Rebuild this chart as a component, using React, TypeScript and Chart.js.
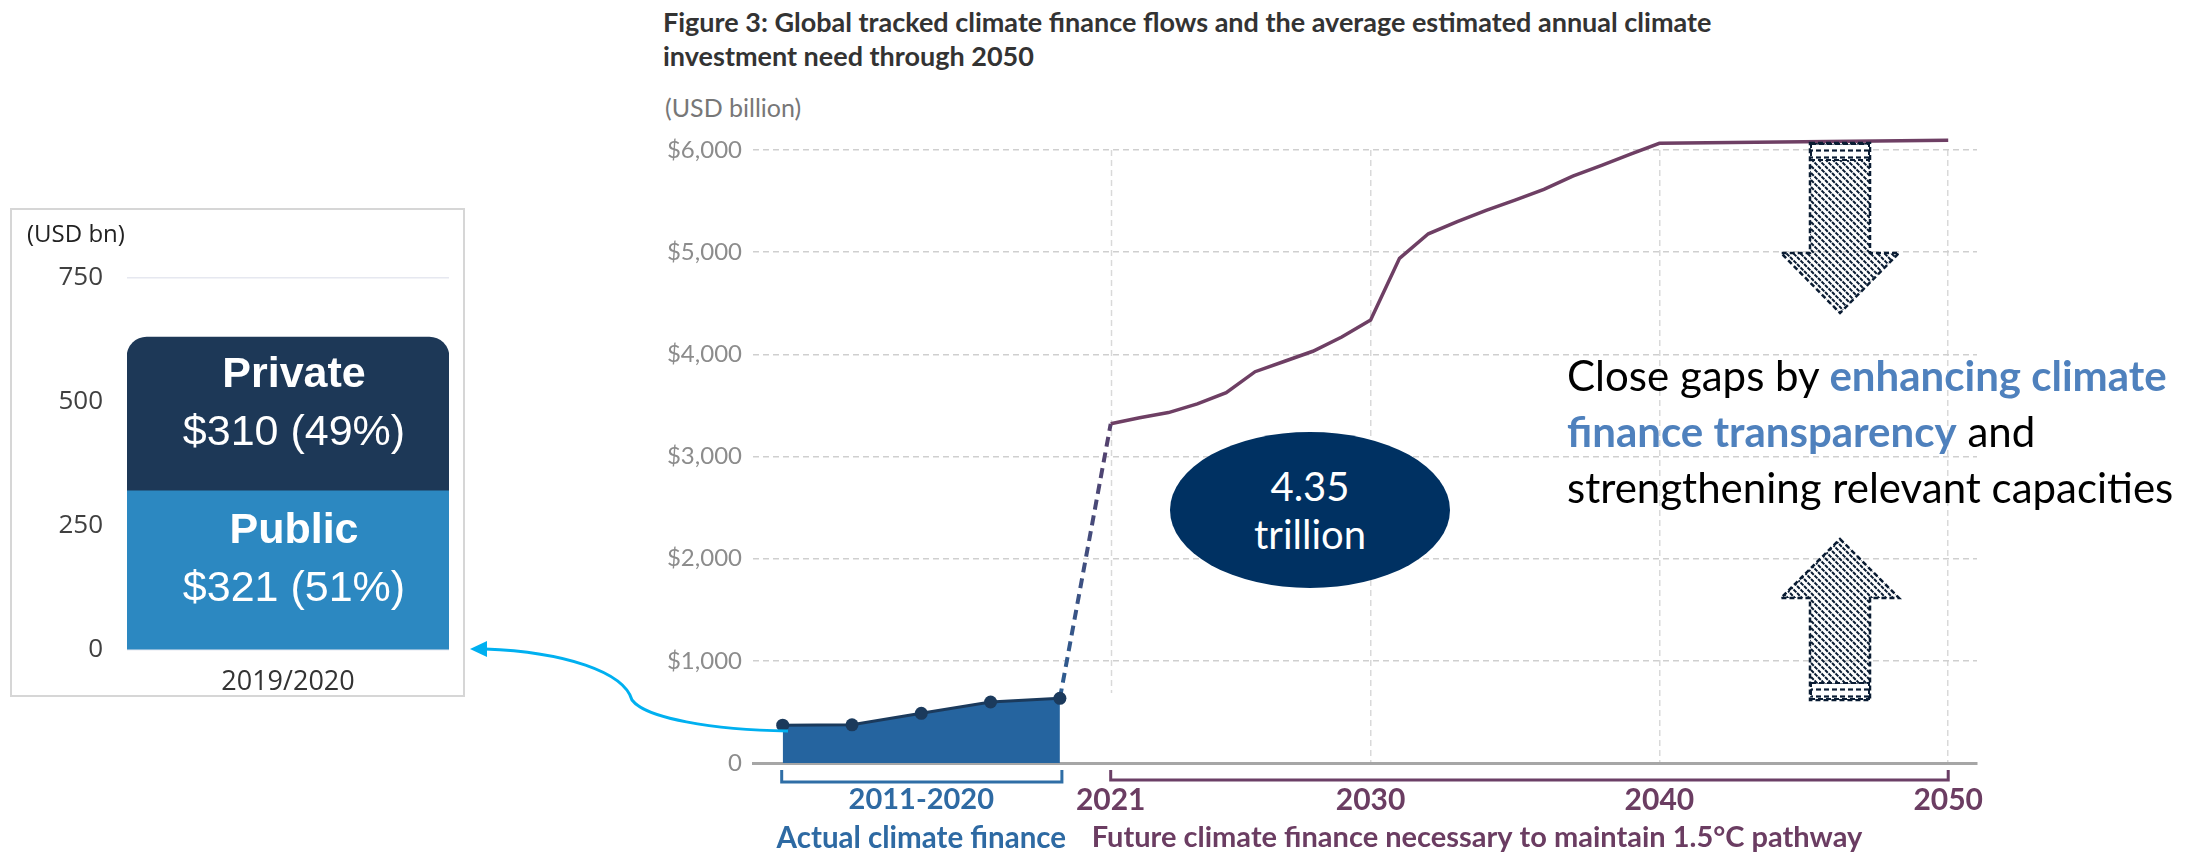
import React, { useEffect, useRef } from 'react';
import { Chart, registerables } from 'chart.js';
Chart.register(...registerables);

// ---- Left panel (2019/2020 split) ----
const barCategories = ['2019/2020'];
const publicValues = [321];
const privateValues = [310];
const publicLabel = ['Public', '$321 (51%)'];
const privateLabel = ['Private', '$310 (49%)'];
const barTicks = [0, 250, 500, 750];

// ---- Main chart ----
const actualPeriods = ['2011/2012', '2013/2014', '2015/2016', '2017/2018', '2019/2020'];
const actualValues = [370, 374, 486, 597, 633];
const futureYears = [2021, 2022, 2023, 2024, 2025, 2026, 2027, 2028, 2029, 2030, 2031, 2032, 2033, 2034, 2035, 2036, 2037, 2038, 2039, 2040, 2050];
const futureValues = [3320, 3380, 3430, 3515, 3625, 3830, 3930, 4030, 4170, 4335, 4940, 5180, 5300, 5410, 5510, 5615, 5745, 5850, 5960, 6065, 6095];
const yTicks = [0, 1000, 2000, 3000, 4000, 5000, 6000];
const yearTicks = [2021, 2030, 2040, 2050];
const actualRangeLabel = '2011-2020';
const actualCaption = 'Actual climate finance';
const futureCaption = 'Future climate finance necessary to maintain 1.5°C pathway';

const BLUE_TXT = '#2e6aa3';
const PURPLE_TXT = '#6b3d62';
const VGRID = '#d9d9d9';

const mainDecor = {
  id: 'mainDecor',
  beforeDatasetsDraw(chart: any) {
    const ctx = chart.ctx;
    const xs = chart.scales.x;
    const area = chart.chartArea;
    // shorter first vertical guide (2021)
    const gx = Math.round(xs.getPixelForValue(yearTicks[0])) + 0.5;
    ctx.save();
    ctx.strokeStyle = VGRID;
    ctx.lineWidth = 1.5;
    ctx.setLineDash([6, 4]);
    ctx.beginPath();
    ctx.moveTo(gx, area.top);
    ctx.lineTo(gx, area.bottom - 70);
    ctx.stroke();
    ctx.restore();

    const a = chart.getDatasetMeta(0).data;
    const f = chart.getDatasetMeta(1).data;
    if (!a.length || !f.length) return;
    const last = a[a.length - 1];
    const first = f[0];
    ctx.save();
    const g = ctx.createLinearGradient(last.x, last.y, first.x, first.y);
    g.addColorStop(0, '#2b5d92');
    g.addColorStop(1, '#56406c');
    ctx.strokeStyle = g;
    ctx.lineWidth = 4;
    ctx.setLineDash([10, 6]);
    ctx.beginPath();
    ctx.moveTo(last.x, last.y);
    ctx.lineTo(first.x, first.y);
    ctx.stroke();
    ctx.restore();
  },
  afterDraw(chart: any) {
    const ctx = chart.ctx;
    const a = chart.getDatasetMeta(0).data;
    const xs = chart.scales.x;
    const bottom = chart.chartArea.bottom;
    ctx.save();
    // actual bracket
    const ax0 = a[0].x - 1;
    const ax1 = a[a.length - 1].x + 2;
    ctx.strokeStyle = '#2f6ea6';
    ctx.lineWidth = 3;
    ctx.beginPath();
    ctx.moveTo(ax0, bottom + 7);
    ctx.lineTo(ax0, bottom + 19);
    ctx.lineTo(ax1, bottom + 19);
    ctx.lineTo(ax1, bottom + 7);
    ctx.stroke();
    // future bracket
    const fx0 = xs.getPixelForValue(yearTicks[0]);
    const fx1 = xs.getPixelForValue(yearTicks[yearTicks.length - 1]);
    ctx.strokeStyle = '#6b3f66';
    ctx.beginPath();
    ctx.moveTo(fx0, bottom + 7);
    ctx.lineTo(fx0, bottom + 17);
    ctx.lineTo(fx1, bottom + 17);
    ctx.lineTo(fx1, bottom + 7);
    ctx.stroke();
    // texts
    const cx = (a[0].x + a[a.length - 1].x) / 2;
    ctx.textBaseline = 'middle';
    ctx.textAlign = 'center';
    ctx.fillStyle = BLUE_TXT;
    ctx.font = 'bold 29px Lato';
    ctx.fillText(actualRangeLabel, cx, bottom + 37);
    ctx.font = 'bold 29.5px Lato';
    ctx.fillText(actualCaption, cx, bottom + 75);
    ctx.textAlign = 'left';
    ctx.fillStyle = PURPLE_TXT;
    ctx.font = 'bold 29px Lato';
    ctx.fillText(futureCaption, fx0 - 19, bottom + 75);
    ctx.restore();
  },
};

const barText = {
  id: 'barText',
  afterDatasetsDraw(chart: any) {
    const ctx = chart.ctx;
    const sets = [publicLabel, privateLabel];
    ctx.save();
    ctx.fillStyle = '#ffffff';
    ctx.textAlign = 'center';
    ctx.textBaseline = 'middle';
    sets.forEach((lines, i) => {
      const el = chart.getDatasetMeta(i).data[0];
      if (!el) return;
      const cy = (el.y + el.base) / 2 - 10;
      const cx = el.x + 6;
      ctx.font = 'bold 43px "Liberation Sans"';
      ctx.fillText(lines[0], cx, cy - 29);
      ctx.font = '43px "Liberation Sans"';
      ctx.fillText(lines[1], cx, cy + 29);
    });
    ctx.restore();
  },
};

function MainChart() {
  const ref = useRef<HTMLCanvasElement>(null);
  useEffect(() => {
    const pxLeft = 753, pxRight = 1977;
    const w = pxRight - pxLeft;
    const xMin = 2021 - (1110.7 - pxLeft) / 28.88;
    const xMax = xMin + w / 28.88;
    const aMin = -(782.7 - pxLeft) / 69.3;
    const aMax = aMin + w / 69.3;
    const chart = new Chart(ref.current!, {
      type: 'line',
      data: {
        datasets: [
          {
            label: 'Actual',
            xAxisID: 'xa',
            data: actualValues.map((v, i) => ({ x: i, y: v })),
            borderColor: '#1b3a5c',
            backgroundColor: '#25649f',
            fill: 'origin',
            borderWidth: 3,
            pointRadius: 6.5,
            pointBackgroundColor: '#1b3a5c',
            pointBorderWidth: 0,
            tension: 0,
            clip: false,
          } as any,
          {
            label: 'Future',
            xAxisID: 'x',
            data: futureYears.map((yr, i) => ({ x: yr, y: futureValues[i] })),
            borderColor: '#6e3f64',
            borderWidth: 3.5,
            pointRadius: 0,
            fill: false,
            tension: 0,
            clip: false,
          } as any,
        ],
      },
      options: {
        responsive: false,
        animation: false,
        devicePixelRatio: 1,
        layout: { padding: { top: 50, right: 63, left: 0, bottom: 0 } },
        plugins: { legend: { display: false }, tooltip: { enabled: false } },
        scales: {
          x: {
            type: 'linear',
            min: xMin,
            max: xMax,
            afterBuildTicks: (s: any) => { s.ticks = yearTicks.map((v) => ({ value: v })); },
            afterFit: (s: any) => { s.height = 91; },
            grid: {
              color: (c: any) => (c.tick && c.tick.value === yearTicks[0] ? 'rgba(0,0,0,0)' : VGRID),
              lineWidth: 1.5,
              drawTicks: false,
            },
            border: { display: true, color: '#a6a6a6', width: 3, dash: [6, 4] },
            ticks: {
              padding: 19,
              autoSkip: false,
              maxRotation: 0,
              color: PURPLE_TXT,
              font: { family: 'Lato', weight: 'bold', size: 30 },
              callback: (v: any) => String(v),
            },
          },
          xa: { type: 'linear', display: false, min: aMin, max: aMax },
          y: {
            min: 0,
            max: 6000,
            afterBuildTicks: (s: any) => { s.ticks = yTicks.map((v) => ({ value: v })); },
            afterFit: (s: any) => { s.width = 113; },
            grid: { color: '#cfcfcf', lineWidth: 1.5, drawTicks: false },
            border: { display: false, dash: [6, 4] },
            ticks: {
              padding: 11,
              color: '#8c8c8c',
              font: { family: 'Lato', size: 24 },
              callback: (v: any) => (v === 0 ? '0' : '$' + Number(v).toLocaleString('en-US')),
            },
          },
        } as any,
      },
      plugins: [mainDecor],
    });
    return () => chart.destroy();
  }, []);
  return <canvas ref={ref} width={1400} height={754} style={{ position: 'absolute', left: 640, top: 100 }} />;
}

function BarChart() {
  const ref = useRef<HTMLCanvasElement>(null);
  useEffect(() => {
    const chart = new Chart(ref.current!, {
      type: 'bar',
      data: {
        labels: barCategories,
        datasets: [
          { label: 'Public', data: publicValues, backgroundColor: '#2c88c1', stack: 's', barPercentage: 1, categoryPercentage: 1, borderRadius: 0 } as any,
          {
            label: 'Private', data: privateValues, backgroundColor: '#1d3857', stack: 's', barPercentage: 1, categoryPercentage: 1,
            borderRadius: { topLeft: 20, topRight: 20, bottomLeft: 0, bottomRight: 0 }, borderSkipped: false,
          } as any,
        ],
      },
      options: {
        responsive: false,
        animation: false,
        devicePixelRatio: 1,
        layout: { padding: { top: 68, right: 15, left: 0, bottom: 0 } },
        plugins: { legend: { display: false }, tooltip: { enabled: false } },
        scales: {
          x: {
            stacked: true,
            grid: { display: false },
            border: { display: false },
            afterFit: (s: any) => { s.height = 45; },
            ticks: { padding: 8, color: '#333', font: { family: 'Open Sans', size: 27 } },
          },
          y: {
            stacked: true,
            min: 0,
            max: 750,
            afterBuildTicks: (s: any) => { s.ticks = barTicks.map((v) => ({ value: v })); },
            afterFit: (s: any) => { s.width = 115; },
            grid: { color: '#e6e8f0', lineWidth: 1.5, drawTicks: false },
            border: { display: false },
            ticks: { padding: 24, color: '#404040', font: { family: 'Open Sans', size: 26 } },
          },
        } as any,
      },
      plugins: [barText],
    });
    return () => chart.destroy();
  }, []);
  return <canvas ref={ref} width={452} height={485} style={{ position: 'absolute', left: 12, top: 210 }} />;
}

export default function App() {
  const ink = '#0a1c33';
  return (
    <div style={{ position: 'fixed', left: 0, top: 0, width: 2198, height: 854, background: '#fff', overflow: 'hidden' }}>
      {/* left panel frame */}
      <div style={{ position: 'absolute', left: 10, top: 208, width: 455, height: 489, border: '2px solid #d6d6d6', boxSizing: 'border-box' }} />
      <BarChart />
      <div style={{ position: 'absolute', left: 27, top: 217, fontFamily: 'Open Sans', fontSize: 24, lineHeight: '32px', color: '#222' }}>(USD bn)</div>

      {/* main chart */}
      <div style={{ position: 'absolute', left: 663, top: 5, fontFamily: 'Lato', fontWeight: 700, fontSize: 27, lineHeight: '34px', color: '#333', whiteSpace: 'nowrap' }}>
        Figure 3: Global tracked climate finance flows and the average estimated annual climate<br />investment need through 2050
      </div>
      <div style={{ position: 'absolute', left: 665, top: 90, fontFamily: 'Lato', fontSize: 25, lineHeight: '34px', color: '#777' }}>(USD billion)</div>
      <MainChart />

      {/* ellipse */}
      <div style={{ position: 'absolute', left: 1170, top: 432, width: 280, height: 156, borderRadius: '50%', background: '#003162', color: '#fff', fontFamily: 'Lato', fontSize: 40, lineHeight: '48px', textAlign: 'center', display: 'flex', flexDirection: 'column', justifyContent: 'center' }}>
        <div>4.35</div>
        <div>trillion</div>
      </div>

      {/* annotation text */}
      <div style={{ position: 'absolute', left: 1567, top: 347, fontFamily: 'Lato', fontSize: 42, lineHeight: '56px', color: '#000', whiteSpace: 'nowrap' }}>
        Close gaps by <b style={{ color: '#4f81bd' }}>enhancing climate</b><br />
        <b style={{ color: '#4f81bd' }}>finance transparency</b> and<br />
        strengthening relevant capacities
      </div>

      <svg width={2198} height={854} style={{ position: 'absolute', left: 0, top: 0, pointerEvents: 'none' }}>
        <defs>
          <pattern id="hatch" width="7" height="7" patternUnits="userSpaceOnUse">
            <path d="M-2,-2 L9,9 M-2,5 L2,9 M5,-2 L9,2" stroke={ink} strokeWidth="2" strokeDasharray="4 1" />
          </pattern>
          <pattern id="band" width="8" height="7" patternUnits="userSpaceOnUse">
            <path d="M0,3.5 L5,3.5" stroke={ink} strokeWidth="2.2" />
          </pattern>
        </defs>
        {/* down arrow */}
        <path d="M1810,143 L1870,143 L1870,253 L1899,253 L1840,313 L1781,253 L1810,253 Z" fill="url(#hatch)" stroke={ink} strokeWidth="2.5" strokeDasharray="5 3" />
        <rect x={1811} y={144} width={58} height={16} fill="#fff" />
        <rect x={1811} y={144} width={58} height={16} fill="url(#band)" stroke={ink} strokeWidth="2" strokeDasharray="5 3" />
        {/* up arrow */}
        <path d="M1840,539 L1899,598 L1870,598 L1870,700 L1810,700 L1810,598 L1781,598 Z" fill="url(#hatch)" stroke={ink} strokeWidth="2.5" strokeDasharray="5 3" />
        <rect x={1811} y={683} width={58} height={16} fill="#fff" />
        <rect x={1811} y={683} width={58} height={16} fill="url(#band)" stroke={ink} strokeWidth="2" strokeDasharray="5 3" />
        {/* connector arrow */}
        <path d="M788,731 C712,730 645,718 632,700 C624,672 565,652 485,649" fill="none" stroke="#00b0f0" strokeWidth="3" />
        <polygon points="470,649 487,641 487,657" fill="#00b0f0" />
      </svg>
    </div>
  );
}
